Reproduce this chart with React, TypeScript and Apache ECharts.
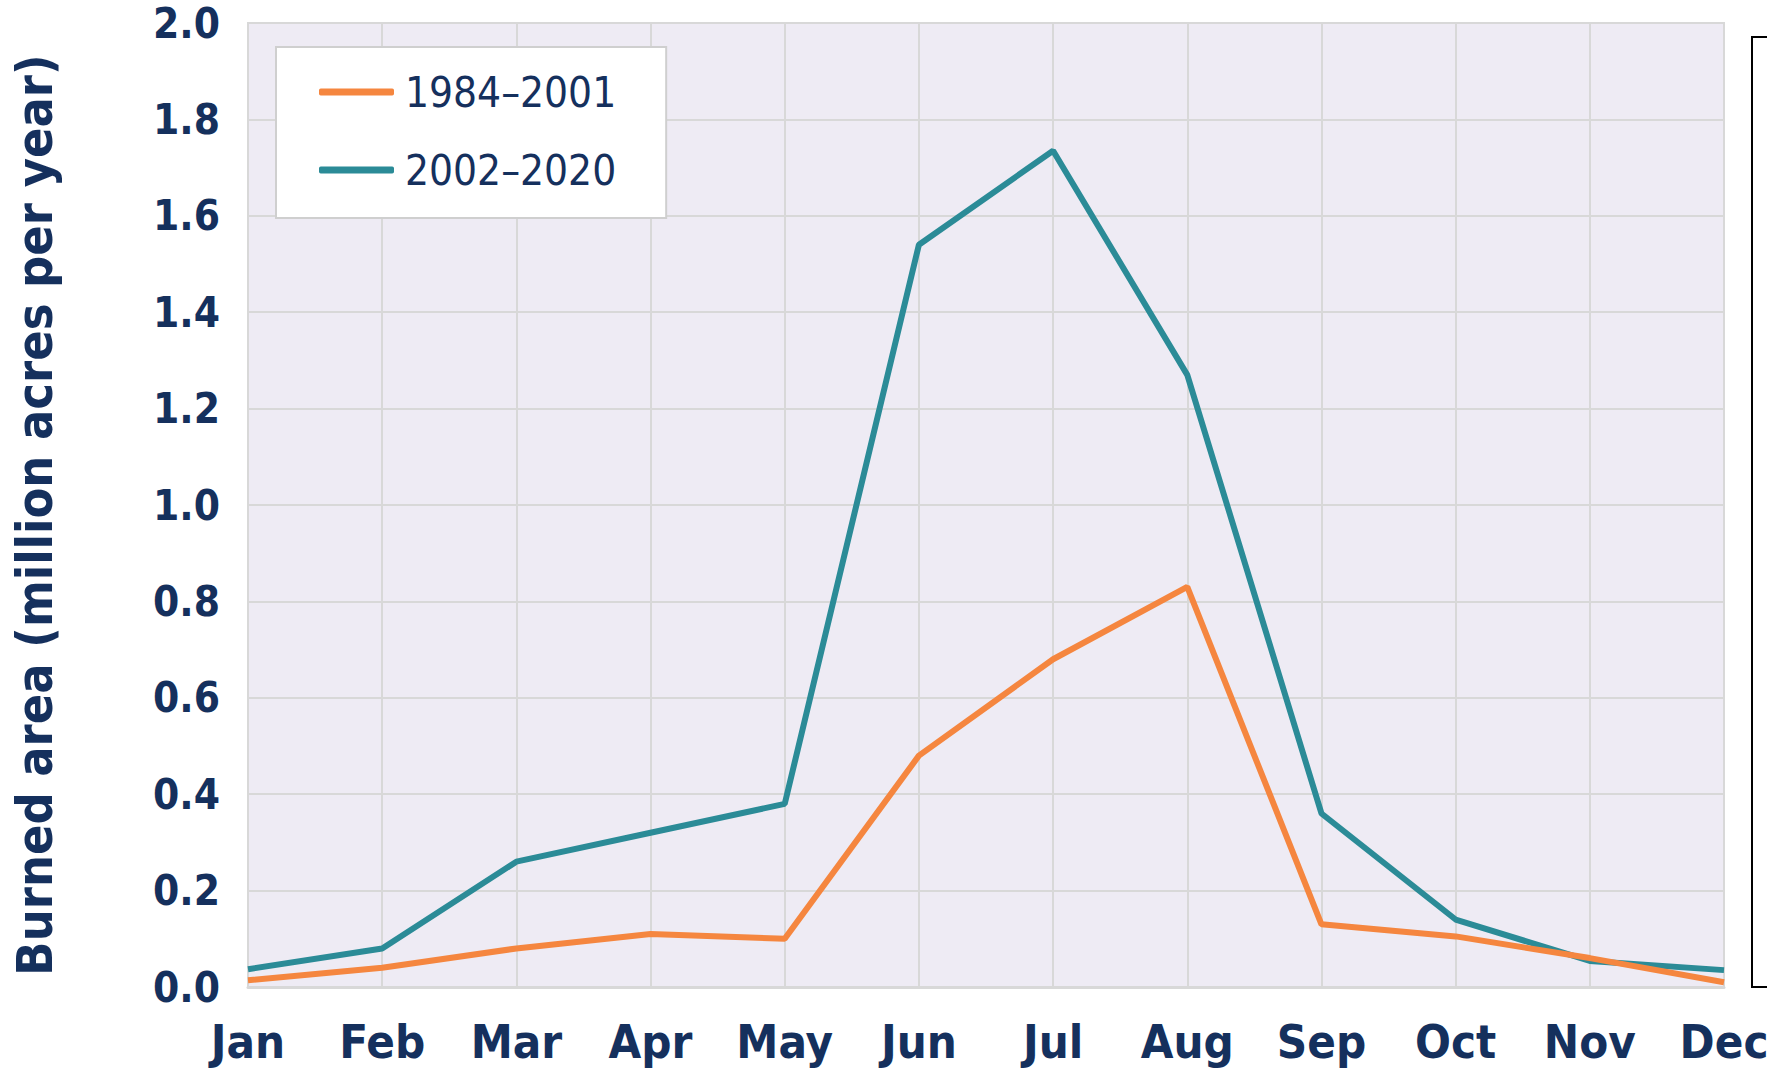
import React, { useEffect, useRef } from "react";
import * as echarts from "echarts";

const months = ["Jan", "Feb", "Mar", "Apr", "May", "Jun", "Jul", "Aug", "Sep", "Oct", "Nov", "Dec"];
const period1Name = "1984–2001";
const period2Name = "2002–2020";
const period1 = [0.014, 0.04, 0.08, 0.11, 0.1, 0.48, 0.68, 0.83, 0.13, 0.105, 0.06, 0.01];
const period2 = [0.037, 0.08, 0.26, 0.32, 0.38, 1.54, 1.735, 1.27, 0.36, 0.14, 0.054, 0.035];
const yTitle = "Burned area (million acres per year)";

const NAVY = "#15305d";
const FONT = "'DejaVu Sans Condensed', 'Liberation Sans Narrow', sans-serif";

export default function App() {
  const ref = useRef<HTMLDivElement>(null);
  useEffect(() => {
    document.body.style.margin = "0";
    const chart = echarts.init(ref.current!, null, { renderer: "svg" });
    chart.setOption({
      animation: false,
      backgroundColor: "#ffffff",
      grid: {
        left: 248,
        right: 43,
        top: 23,
        bottom: 83,
        show: true,
        backgroundColor: "#eeebf4",
        borderColor: "#d8d8d8",
        borderWidth: 2,
        outerBoundsMode: "none",
        containLabel: false,
      },
      legend: {
        show: true,
        left: 276,
        top: 47,
        orient: "vertical",
        backgroundColor: "#ffffff",
        borderColor: "#cfcfcf",
        borderWidth: 2,
        padding: [24, 50, 27, 43],
        itemGap: 36,
        itemWidth: 75,
        itemHeight: 7,
        icon: "roundRect",
        textStyle: { fontFamily: FONT, fontSize: 42, color: NAVY, padding: [0, 0, 0, 6] },
        data: [period1Name, period2Name],
      },
      xAxis: {
        type: "category",
        data: months,
        boundaryGap: false,
        axisLine: { show: true, lineStyle: { color: "#d8d8d8", width: 3 } },
        axisTick: { show: false },
        axisLabel: {
          fontFamily: FONT,
          fontWeight: "bold",
          fontSize: 47,
          color: NAVY,
          margin: 31,
        },
        splitLine: { show: true, lineStyle: { color: "#d8d8d8", width: 2 } },
      },
      yAxis: {
        type: "value",
        min: 0,
        max: 2,
        interval: 0.2,
        name: yTitle,
        nameLocation: "middle",
        nameGap: 188,
        nameTextStyle: {
          fontFamily: FONT,
          fontWeight: "bold",
          fontSize: 50,
          color: NAVY,
          padding: [0, 20, 0, 0],
        },
        axisLine: { show: false },
        axisTick: { show: false },
        axisLabel: {
          fontFamily: FONT,
          fontWeight: "bold",
          fontSize: 42,
          color: NAVY,
          margin: 28,
          formatter: (v: number) => v.toFixed(1),
        },
        splitLine: { show: true, lineStyle: { color: "#d8d8d8", width: 2 } },
      },
      series: [
        {
          name: period1Name,
          type: "line",
          data: period1,
          symbol: "none",
          lineStyle: { color: "#f5863f", width: 6 },
          itemStyle: { color: "#f5863f" },
          z: 3,
        },
        {
          name: period2Name,
          type: "line",
          data: period2,
          symbol: "none",
          lineStyle: { color: "#2b8b97", width: 6 },
          itemStyle: { color: "#2b8b97" },
          z: 2,
        },
      ],
      graphic: [
        {
          type: "rect",
          shape: { x: 1752, y: 37, width: 40, height: 950 },
          style: { fill: "#ffffff", stroke: "#000000", lineWidth: 2 },
        },
      ],
    });
    return () => chart.dispose();
  }, []);
  return <div ref={ref} style={{ width: 1767, height: 1070 }} />;
}
